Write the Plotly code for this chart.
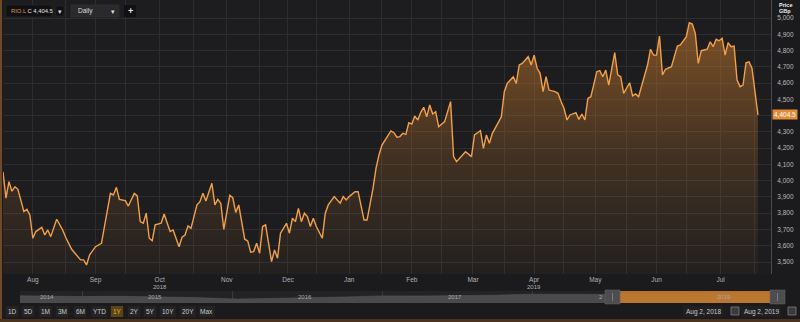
import plotly.graph_objects as go
import pandas as pd

# ---------------- data ----------------
session = [0, 1, 2, 3, 4, 5, 7, 8, 9, 10, 11, 13, 14, 15, 16, 18, 20, 21, 23, 24, 26, 27, 28, 29, 31, 33,
           36, 37, 38, 39, 41, 42, 44, 45, 46, 47, 48, 49, 50, 51, 53, 54, 56, 57, 59, 60, 61, 62, 63, 65,
           66, 67, 68, 69, 70, 71, 72, 73, 74, 76, 77, 78, 79, 81, 82, 83, 84, 85, 86, 87, 88, 90, 91, 92,
           93, 95, 96, 97, 98, 99, 100, 101, 102, 103, 104, 105, 107, 108, 109, 111, 112, 113, 114, 115,
           116, 118, 119, 121, 122, 124, 125, 126, 127, 128, 130, 131, 132, 133, 134, 135, 136, 137, 138,
           139, 140, 141, 142, 143, 144, 145, 146, 148, 150, 151, 152, 154, 155, 157, 158, 160, 161, 162,
           163, 164, 165, 167, 168, 169, 171, 172, 173, 174, 176, 177, 178, 179, 180, 181, 182, 183, 185,
           186, 187, 188, 189, 190, 192, 193, 194, 195, 196, 197, 199, 200, 201, 202, 203, 205, 206, 207,
           208, 210, 211, 212, 213, 215, 216, 217, 218, 219, 220, 221, 222, 224, 225, 226, 227, 229, 230,
           231, 232, 233, 234, 236, 237, 238, 239, 240, 241, 242, 243, 244, 245, 246, 247, 248, 249, 250,
           251, 253]
price = [4055, 3892, 3994, 3935, 3963, 3947, 3810, 3824, 3789, 3646, 3687, 3713, 3666, 3697, 3656, 3763,
         3697, 3652, 3578, 3558, 3513, 3513, 3482, 3543, 3594, 3615,
         3922, 3912, 3959, 3885, 3877, 3844, 3922, 3906, 3748, 3738, 3800, 3646, 3631, 3728, 3738, 3795,
         3687, 3697, 3594, 3652, 3666, 3722, 3707, 3851,
         3871, 3922, 3875, 3930, 3984, 3851, 3885, 3860, 3700, 3910, 3895, 3805, 3851, 3640, 3630, 3560,
         3564, 3615, 3554, 3718, 3728, 3502, 3574, 3523,
         3677, 3738, 3677, 3769, 3748, 3830, 3748, 3800, 3779, 3718, 3769, 3718, 3646, 3800, 3851, 3902,
         3881, 3861, 3902, 3881,
         3902, 3932, 3932, 3758, 3758, 3953, 4076, 4158, 4219, 4250, 4306, 4295, 4267, 4271, 4291, 4285,
         4356, 4348, 4397,
         4373, 4420, 4451, 4393, 4465, 4410, 4424, 4332, 4363, 4486, 4148, 4117, 4158, 4178, 4148, 4281,
         4307, 4199, 4281,
         4230, 4291, 4322, 4393, 4547, 4598, 4639, 4598, 4711, 4721, 4762, 4711, 4772, 4691, 4660, 4547,
         4639, 4557, 4547,
         4537, 4486, 4445, 4373, 4404, 4418, 4377, 4410, 4373, 4506, 4516, 4670, 4676, 4639, 4680, 4588,
         4787, 4650, 4639,
         4537, 4602, 4521, 4533, 4516, 4639, 4711, 4808, 4772, 4772, 4889, 4650, 4685, 4701, 4762, 4828,
         4834, 4885, 4971,
         4963, 4906, 4721, 4799, 4808, 4854, 4824, 4869, 4860, 4875, 4772, 4848, 4824, 4828, 4619, 4578,
         4588, 4725, 4731,
         4691, 4404.5]

month_labels = ["Aug", "Sep", "Oct", "Nov", "Dec", "Jan", "Feb", "Mar", "Apr", "May", "Jun", "Jul"]
year_marks = {"Oct": "2018", "Apr": "2019"}
y_ticks = list(range(3500, 5001, 100))
last_price = 4404.5

uk_holidays = ["2018-08-27", "2018-12-25", "2018-12-26", "2019-01-01", "2019-04-19",
               "2019-04-22", "2019-05-06", "2019-05-27"]

# navigator (5 years history, rough reading)
nav_dates = ["2014-08-02", "2014-10-01", "2015-01-01", "2015-04-01", "2015-07-01", "2015-10-01",
             "2016-01-15", "2016-04-01", "2016-07-01", "2016-10-01", "2017-01-01", "2017-04-01",
             "2017-07-01", "2017-10-01", "2018-01-01", "2018-04-01", "2018-07-01", "2018-10-01",
             "2019-01-01", "2019-04-01", "2019-08-02"]
nav_price = [3250, 3000, 2900, 3000, 2700, 2450, 1750, 2150, 2400, 2700, 3200, 3150, 3300, 3500,
             3950, 3800, 3900, 3800, 3800, 4500, 4400]
nav_years = ["2014", "2015", "2016", "2017", "2", "2019"]
buttons = ["1D", "5D", "1M", "3M", "6M", "YTD", "1Y", "2Y", "5Y", "10Y", "20Y", "Max"]

# ---------------- trading calendar helpers ----------------
cal = pd.bdate_range("2018-08-01", "2019-08-31", freq="C", holidays=uk_holidays)
start = cal.get_loc(pd.Timestamp("2018-08-02"))
pos = pd.Series(range(len(cal)), index=cal) - start
per = cal.to_period("M")
centres, firsts = [], []
for m in pd.period_range("2018-08", "2019-08", freq="M"):
    s = pos.values[per == m]
    firsts.append(int(s[0]))
    centres.append(s[0] + len(s) / 2)
centres = centres[:12]
dates = [cal[start + s].strftime("%b %d, %Y") for s in session]

W, H = 800, 322


def px(x):
    return x / W


def py(y):
    return 1 - y / H


BG = "#1d1d1f"
GRID = "#2d2d30"
ORANGE = "#f3a04c"

fig = go.Figure()
fig.add_trace(go.Scatter(
    x=session, y=price, mode="lines", customdata=dates,
    line=dict(color=ORANGE, width=1.4),
    fill="tozeroy",
    fillgradient=dict(type="vertical", start=3426, stop=5000,
                      colorscale=[[0, "rgba(205,125,45,0.03)"], [0.45, "rgba(205,125,45,0.2)"],
                                  [1, "rgba(205,125,45,0.55)"]]),
    hovertemplate="%{customdata}: %{y:,.1f}<extra></extra>",
    xaxis="x", yaxis="y", showlegend=False))

fig.add_trace(go.Scatter(
    x=nav_dates, y=nav_price, mode="lines", line=dict(color="#5a5a5c", width=0.5),
    fill="tozeroy", fillcolor="#4a4a4c", xaxis="x2", yaxis="y2",
    hoverinfo="skip", showlegend=False))

n_right = (771 - 3) / 2.984
ppu = (262 - 18) / 1500.0
y_bot = 3500 - (274 - 262) / ppu
y_top = 5000 + 18 / ppu
y_text = ["" if v == 4400 else f"{v:,}" for v in y_ticks]

fig.update_layout(
    width=W, height=H, margin=dict(l=0, r=0, t=0, b=0),
    paper_bgcolor="#1b1b1d", plot_bgcolor=BG,
    font=dict(family="Liberation Sans, Arial, sans-serif", color="#b4b4b4", size=7),
    xaxis=dict(domain=[px(3), px(771)], range=[0, n_right], tickmode="array",
               tickvals=centres, ticktext=month_labels, showgrid=True, gridcolor=GRID,
               gridwidth=1, zeroline=False, showline=False, ticks="",
               tickfont=dict(size=6.5, color="#b0b0b0"), ticklabelstandoff=0,
               minor=dict(tickmode="array", tickvals=firsts, showgrid=True, gridcolor=GRID,
                          gridwidth=1, ticks="")),
    yaxis=dict(domain=[py(274), 1], range=[y_bot, y_top], side="right", anchor="x",
               tickmode="array", tickvals=y_ticks, ticktext=y_text, showgrid=True,
               gridcolor=GRID, zeroline=False, showline=True, linecolor="#4a4a4c",
               ticks="", tickfont=dict(size=6.5, color="#b8b8b8"), ticklabelstandoff=4),
    xaxis2=dict(domain=[px(20), px(770)], range=["2014-08-02", "2019-08-02"], anchor="y2",
                showticklabels=False, showgrid=True, gridcolor="#3a3a3c", ticks="",
                tickmode="array",
                tickvals=["2015-01-01", "2016-01-01", "2017-01-01", "2018-01-01", "2019-01-01"],
                zeroline=False),
    yaxis2=dict(domain=[py(303), py(291)], range=[0, 5400], anchor="x2",
                showticklabels=False, showgrid=False, zeroline=False),
    hovermode="x",
)

shapes = []
ann = []


def text(x, y, s, size=6.5, color="#c8c8c8", xa="center", ya="middle", **kw):
    ann.append(dict(x=x, y=y, xref=kw.pop("xref", "paper"), yref=kw.pop("yref", "paper"),
                    xanchor=xa, yanchor=ya, showarrow=False, text=s,
                    font=dict(size=size, color=color), **kw))


def rect(x0, y0, x1, y1, fill, line=None, layer="above"):
    shapes.append(dict(type="rect", xref="paper", yref="paper", x0=px(x0), x1=px(x1),
                       y0=py(y1), y1=py(y0), fillcolor=fill,
                       line=line or dict(width=0), layer=layer))


# left border strip & bottom strip
rect(0, 0, 2, H, "#6e4a28")
rect(0, 319, W, H, "#4a3420")
# navigator background
rect(20, 291, 770, 303, "#232325", layer="below")
# selection window
shapes.append(dict(type="rect", xref="x2", yref="paper", x0="2018-08-02", x1="2019-08-02",
                   y0=py(303), y1=py(291), fillcolor="rgba(196,122,46,0.92)",
                   line=dict(width=0), layer="above"))
for hx0, hx1 in [(605, 620), (770, 785)]:
    rect(hx0, 290, hx1, 304, "#4d4d50", line=dict(color="#666", width=0.5))
    shapes.append(dict(type="line", xref="paper", yref="paper", x0=px(hx0 + 7.5), x1=px(hx0 + 7.5),
                       y0=py(301), y1=py(293), line=dict(color="#7a7a7d", width=1), layer="above"))

# year marks under month labels
for lbl, yr in year_marks.items():
    text(centres[month_labels.index(lbl)] * 2.984 / W + px(3), py(286.5), yr, size=6, color="#b0b0b0")

# toolbar top-left
rect(6, 5, 52, 17, "#111113", line=dict(color="#2f2f31", width=0.5))
rect(56, 6, 64, 16, "#111113", line=dict(color="#2f2f31", width=0.5))
rect(71, 5, 119, 17, "#2a2a2c", line=dict(color="#3a3a3c", width=0.5))
rect(124, 5, 136, 17, "#111113")
text(px(9), py(11), "<span style='color:#d89a50'>RIO.L</span> C 4,404.5", size=5.8,
     color="#e6e6e6", xa="left")
text(px(60), py(11), "▾", size=7, color="#dddddd")
text(px(76), py(11), "Daily", color="#dddddd", xa="left")
text(px(113), py(11), "▾", size=7, color="#dddddd")
text(px(130), py(11), "<b>+</b>", size=9, color="#e6e6e6")

# price header
text(px(777), py(5), "<b>Price</b>", size=5.5, color="#eeeeee", xa="left")
text(px(777), py(11.5), "<b>GBp</b>", size=5.5, color="#eeeeee", xa="left")
# last price tag
text(px(772), last_price, f"{last_price:,.1f}", size=6.5, color="#ffffff", xa="left",
     yref="y", bgcolor="#e08c38", borderpad=1)

# navigator year labels
for lbl, xx in zip(nav_years, [47, 155, 305, 455, 601, 724]):
    text(px(xx), py(297), lbl, size=6, color="#a8a8a8")

# range buttons
bx = [12, 28, 45.5, 62, 80, 99, 117, 134, 150, 168, 188, 207]
for b, xx in zip(buttons, bx):
    wdt = 6 + 3.2 * len(b)
    sel = b == "1Y"
    rect(xx - wdt / 2, 306, xx + wdt / 2, 317, "#5a4516" if sel else "#242426")
    text(px(xx), py(311.5), b, color="#e0b040" if sel else "#c8c8c8")

# date boxes
for lbl, cx, ic in [("Aug 2, 2018", 703, 735), ("Aug 2, 2019", 761, 792)]:
    rect(cx - 20, 306, cx + 20, 317, "#202022")
    text(px(cx), py(311.5), lbl)
    rect(ic - 4, 307, ic + 4, 315, "#3a3a3c", line=dict(color="#8a8a8c", width=0.7))

fig.update_layout(shapes=shapes, annotations=ann)
fig.write_html("out.html")
